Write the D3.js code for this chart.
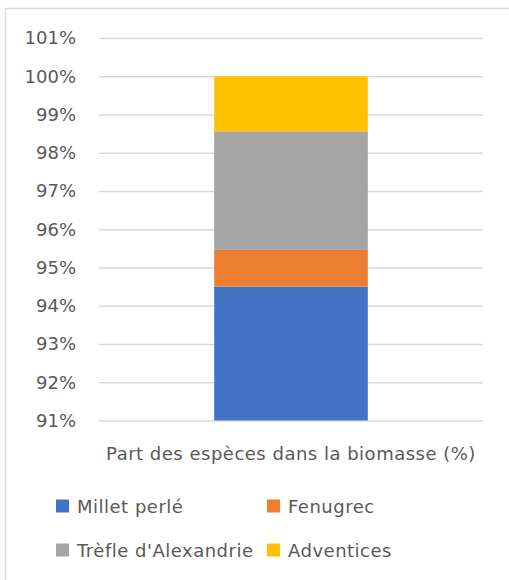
<!DOCTYPE html>
<html><head><meta charset="utf-8">
<script src="https://cdn.jsdelivr.net/npm/d3@7"></script>
<style>body{margin:0;background:#fff}svg{display:block}text{font-family:"DejaVu Sans",sans-serif;fill:#595959}</style>
</head><body><svg id="c" width="509" height="580"></svg>
<script>
(function(){
const categories = ["Part des espèces dans la biomasse (%)"];
const seriesNames = ["Millet perlé", "Fenugrec", "Trèfle d'Alexandrie", "Adventices"];
const seriesValues = [94.5, 0.96, 3.1, 1.44];
const seriesColors = ["#4472c4", "#ed7d31", "#a5a5a5", "#ffc000"];
const tickValues = [91, 92, 93, 94, 95, 96, 97, 98, 99, 100, 101];
const fs = 18;

const svg = d3.select("#c");
svg.append("rect").attr("x", 5.5).attr("y", 8.5).attr("width", 520).attr("height", 600)
  .attr("fill", "#fff").attr("stroke", "#d9d9d9").attr("stroke-width", 1.5);

const pL = 99, pR = 483, pT = 38, pB = 420.5;
const y = d3.scaleLinear().domain([91, 101]).range([pB, pT]);
const x = d3.scaleBand().domain(categories).range([pL, pR]).paddingInner(0.6).paddingOuter(0.3);

const yAxis = svg.append("g").attr("transform", `translate(${pL},0)`)
  .call(d3.axisLeft(y).tickValues(tickValues).tickFormat(d => d + "%").tickSize(-(pR - pL)).tickPadding(23));
yAxis.select(".domain").remove();
yAxis.selectAll(".tick line").attr("stroke", "#d9d9d9").attr("stroke-width", 1.3);
yAxis.selectAll(".tick text").attr("font-size", fs).attr("font-family", "DejaVu Sans").style("fill", "#595959");

let acc = 0;
const stacks = seriesValues.map((v, i) => { const s = { y0: acc, y1: acc + v, i }; acc += v; return s; });
svg.append("g").selectAll("rect").data(stacks).join("rect")
  .attr("x", x(categories[0])).attr("width", x.bandwidth())
  .attr("y", d => y(Math.min(d.y1, 101)))
  .attr("height", d => Math.max(0, y(Math.max(d.y0, 91)) - y(Math.min(d.y1, 101))))
  .attr("fill", d => seriesColors[d.i]);

svg.append("text").attr("x", x(categories[0]) + x.bandwidth() / 2).attr("y", 459.5)
  .attr("text-anchor", "middle").attr("font-size", fs).attr("letter-spacing", 0.5).text(categories[0]);

const legendPos = [[56, 506], [267, 506], [56, 550], [267, 550]];
const lg = svg.append("g").selectAll("g").data(seriesNames).join("g")
  .attr("transform", (d, i) => `translate(${legendPos[i][0]},${legendPos[i][1]})`);
lg.append("rect").attr("x", 0).attr("y", -6.5).attr("width", 13).attr("height", 13)
  .attr("fill", (d, i) => seriesColors[i]);
lg.append("text").attr("x", 21).attr("y", 6.5).attr("font-size", fs).attr("letter-spacing", 0.5).text(d => d);
})();
</script></body></html>
